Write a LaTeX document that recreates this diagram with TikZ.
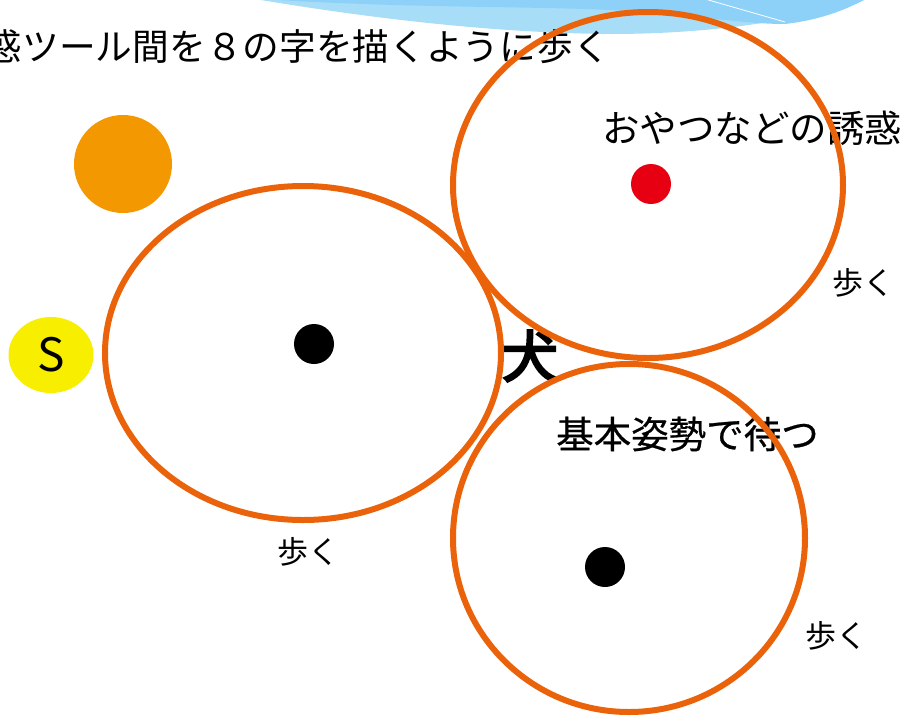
\documentclass[tikz,border=0pt]{standalone}
\usepackage{fontspec}
\usetikzlibrary{shapes.geometric}
\newfontfamily\jp{Noto Sans CJK JP}
\newfontfamily\jpm[FakeBold=0.6]{Noto Sans CJK JP}
\newfontfamily\jpb[FakeBold=4]{Noto Sans CJK JP}
\definecolor{ring}{RGB}{234,99,10}
\definecolor{skylight}{RGB}{168,221,248}
\definecolor{skydark}{RGB}{142,209,248}
\definecolor{dotred}{RGB}{230,0,18}
\definecolor{dotorange}{RGB}{243,152,0}
\definecolor{dotyellow}{RGB}{248,238,0}
\tikzset{
  ringline/.style={draw=ring,line width=6pt},
  dot/.style={circle,fill=black,minimum size=40pt,inner sep=0pt},
  lbl/.style={inner sep=0pt,font=\jp\fontsize{37.5}{40}\selectfont},
  walk/.style={inner sep=0pt,font=\jp\fontsize{31}{34}\selectfont},
}
\begin{document}
\begin{tikzpicture}[x=1pt,y=-1pt]
\useasboundingbox (0,0) rectangle (905,716);
\clip (0,0) rectangle (905,716);
% sky decoration at the top
\fill[skylight] (255,-1) .. controls (380,20) and (500,33) .. (610,34)
   .. controls (720,34) and (810,18) .. (866,-1) -- cycle;
\fill[skydark] (262,-1) .. controls (400,8) and (520,6) .. (610,10)
   .. controls (690,14) and (740,24) .. (785,24)
   .. controls (820,20) and (845,10) .. (866,-1) -- cycle;
\draw[white,line width=0.8pt] (705,-1) -- (785,22);
% texts
\node[lbl,anchor=east,font=\jp\fontsize{36.7}{40}\selectfont] (title) at (610,47) {誘惑ツール間を８の字を描くように歩く};
\node[lbl,anchor=west] (treat) at (602,128) {おやつなどの誘惑};
\node[lbl,anchor=west,font=\jpm\fontsize{37.5}{40}\selectfont] (wait) at (556,434) {基本姿勢で待つ};
\node[inner sep=0pt,font=\jpb\fontsize{56}{60}\selectfont] (dog) at (530,356) {犬};
\node[walk] (w1) at (308,552) {歩く};
\node[walk] (w2) at (863,283) {歩く};
\node[walk] (w3) at (836,636) {歩く};
% side markers
\node[circle,fill=dotorange,minimum size=98pt,inner sep=0pt] (orange) at (123,164) {};
\node[ellipse,fill=dotyellow,minimum width=85pt,minimum height=76pt,inner sep=0pt,font=\jp\fontsize{46}{50}\selectfont] (start) at (51,355) {S};
% rings
\draw[ringline] (303,353) ellipse [x radius=198, y radius=167];
\draw[ringline] (648,185) ellipse [x radius=195, y radius=173];
\draw[ringline] (629,538) ellipse [x radius=176, y radius=174];
% dots
\node[dot] (c1) at (314,344) {};
\node[dot,fill=dotred] (c2) at (651,184) {};
\node[dot] (c3) at (605,567) {};
\end{tikzpicture}
\end{document}
